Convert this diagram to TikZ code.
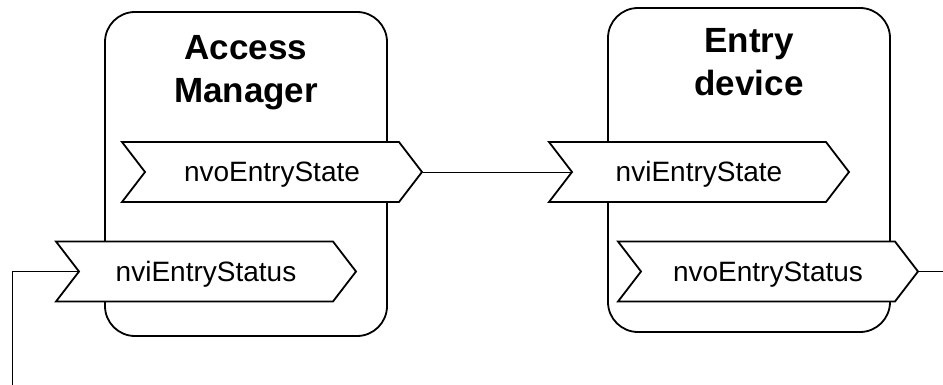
\documentclass[tikz,border=0pt]{standalone}
\usepackage{fontspec}
\setmainfont{Liberation Sans}
\usetikzlibrary{shapes.symbols}
\begin{document}
\begin{tikzpicture}[x=1pt,y=-1pt,
  devbox/.style={draw=black,line width=1.8pt,rounded corners=30pt,minimum width=282pt,minimum height=324pt,inner sep=0pt},
  devtitle/.style={anchor=north,align=center,inner sep=0pt,font=\fontsize{35}{42.8}\selectfont\bfseries},
  port/.style={draw=black,fill=white,line width=1.8pt,shape=signal,signal from=west,signal to=east,signal pointer angle=105,minimum width=300pt,minimum height=60pt,inner sep=0pt,text height=19.5pt,text depth=0pt,font=\fontsize{28}{34}\selectfont},
  wire/.style={draw=black,line width=0.8pt}]
\useasboundingbox (0,0) rectangle (943,385);
\node[devbox] (am) at (246,174) {};
\node[devbox] (ed) at (749,170) {};
\node[devtitle] (amt) at (246,35) {Access\\Manager};
\node[devtitle] (edt) at (749,28.5) {Entry\\device};
\node[port] (nvoState) at (272,172) {nvoEntryState};
\node[port] (nviStatus) at (206,271.5) {nviEntryStatus};
\node[port] (nviState) at (699,172) {nviEntryState};
\node[port] (nvoStatus) at (768,271.5) {nvoEntryStatus};
\coordinate (c1) at (12,271.5);
\coordinate (c2) at (12,385);
\coordinate (c3) at (943,271.5);
\draw[wire] (nvoState.east) -- (nviState.west);
\draw[wire] (nviStatus.west) -- (c1) -- (c2);
\draw[wire] (nvoStatus.east) -- (c3);
\end{tikzpicture}
\end{document}
